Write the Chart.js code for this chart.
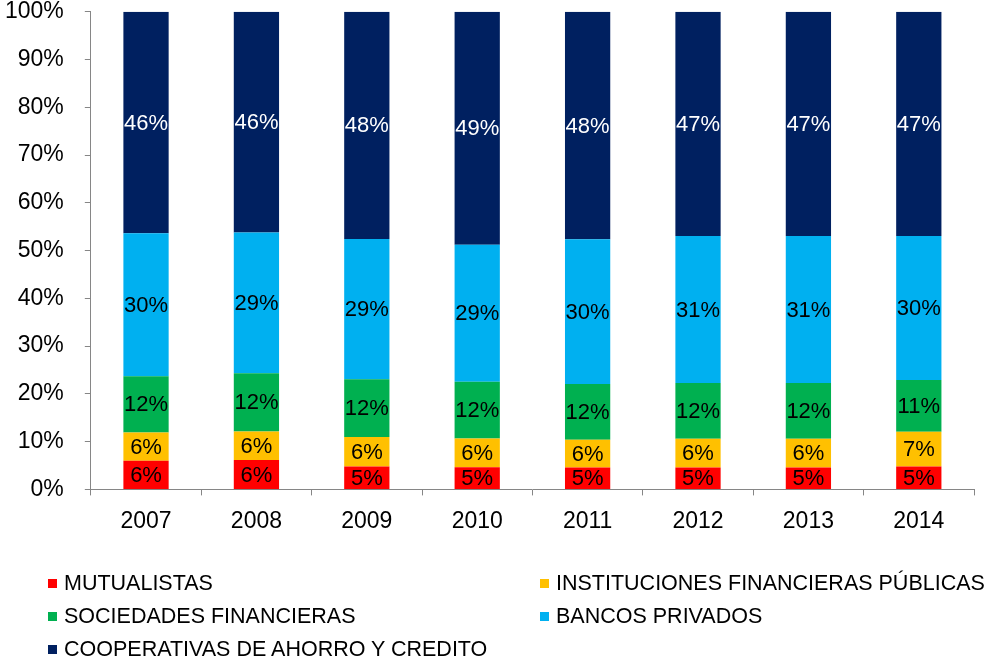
<!DOCTYPE html>
<html>
<head>
<meta charset="utf-8">
<script src="https://cdn.jsdelivr.net/npm/chart.js@4/dist/chart.umd.min.js"></script>
<style>
    html, body { margin: 0; padding: 0; background: #fff; }
    #wrap { position: relative; width: 985px; height: 659px; overflow: hidden; }
    #chart { position: absolute; left: -2px; top: -23px; }
    #legend {
        position: absolute; left: 48px; top: 571px; width: 937px;
        display: grid; grid-template-columns: 492px 445px; row-gap: 8px;
        font-family: "Liberation Sans", Arial, sans-serif; font-size: 21.5px; color: #000;
    }
    #legend .item { display: flex; align-items: center; height: 25px; white-space: nowrap; }
    #legend .box { width: 9px; height: 9px; margin-right: 7px; }
</style>
</head>
<body>
<div id="wrap">
    <canvas id="chart" width="985" height="684"></canvas>
    <div id="legend"></div>
</div>
<script>
const years = ['2007', '2008', '2009', '2010', '2011', '2012', '2013', '2014'];
const seriesNames = [
    'MUTUALISTAS',
    'INSTITUCIONES FINANCIERAS PÚBLICAS',
    'SOCIEDADES FINANCIERAS',
    'BANCOS PRIVADOS',
    'COOPERATIVAS DE AHORRO Y CREDITO'
];
const mutualistas = [5.98, 6.13, 4.78, 4.66, 4.58, 4.58, 4.58, 4.78];
const publicas = [5.94, 6.00, 6.17, 6.00, 5.81, 6.02, 6.02, 7.29];
const sociedades = [11.75, 12.17, 12.09, 11.90, 11.69, 11.69, 11.69, 10.85];
const bancos = [29.95, 29.47, 29.38, 28.69, 30.28, 30.76, 30.76, 30.13];
const cooperativas = [46.38, 46.23, 47.58, 48.75, 47.64, 46.95, 46.95, 46.95];
const yTicks = [0, 10, 20, 30, 40, 50, 60, 70, 80, 90, 100];

const colors = ['#ff0000', '#ffc000', '#00b050', '#00b0f0', '#002060'];
const labelColors = ['#000', '#000', '#000', '#000', '#fff'];
const axisGray = '#868686';
const font = '"Liberation Sans", Arial, sans-serif';

// draws the rounded percentage in the middle of every segment
const segmentLabels = {
    id: 'segmentLabels',
    afterDatasetsDraw(chart) {
        const ctx = chart.ctx;
        ctx.save();
        ctx.font = '22px ' + font;
        ctx.textAlign = 'center';
        ctx.textBaseline = 'middle';
        chart.data.datasets.forEach((ds, i) => {
            const meta = chart.getDatasetMeta(i);
            ctx.fillStyle = labelColors[i];
            meta.data.forEach((bar, j) => {
                const y = (bar.y + bar.base) / 2;
                ctx.fillText(Math.round(ds.data[j]) + '%', bar.x, y + 1);
            });
        });
        ctx.restore();
    }
};

const values = [mutualistas, publicas, sociedades, bancos, cooperativas];

const chart = new Chart(document.getElementById('chart'), {
    type: 'bar',
    data: {
        labels: years,
        datasets: values.map((data, i) => ({
            label: seriesNames[i],
            data: data,
            backgroundColor: colors[i],
            borderWidth: 0,
            categoryPercentage: 1,
            barPercentage: 0.41
        }))
    },
    options: {
        responsive: false,
        animation: false,
        layout: { padding: { top: 0, left: -14, right: 9, bottom: 114 } },
        plugins: {
            legend: { display: false },
            tooltip: { enabled: false }
        },
        scales: {
            x: {
                stacked: true,
                grid: { display: true, drawOnChartArea: false, color: axisGray, tickLength: 6, offset: true },
                border: { color: axisGray, width: 1 },
                ticks: { color: '#000', font: { family: font, size: 23 }, padding: 12 }
            },
            y: {
                stacked: true,
                min: 0,
                max: 100,
                afterBuildTicks: axis => { axis.ticks = yTicks.map(v => ({ value: v })); },
                grid: { display: true, drawOnChartArea: false, color: axisGray, tickLength: 6 },
                border: { color: axisGray, width: 1 },
                ticks: {
                    color: '#000',
                    font: { family: font, size: 23 },
                    padding: 21,
                    callback: v => v + '%'
                }
            }
        }
    },
    plugins: [segmentLabels]
});

const legend = document.getElementById('legend');
chart.data.datasets.forEach(ds => {
    const item = document.createElement('div');
    item.className = 'item';
    const box = document.createElement('span');
    box.className = 'box';
    box.style.background = ds.backgroundColor;
    const text = document.createElement('span');
    text.textContent = ds.label;
    item.appendChild(box);
    item.appendChild(text);
    legend.appendChild(item);
});
</script>
</body>
</html>
